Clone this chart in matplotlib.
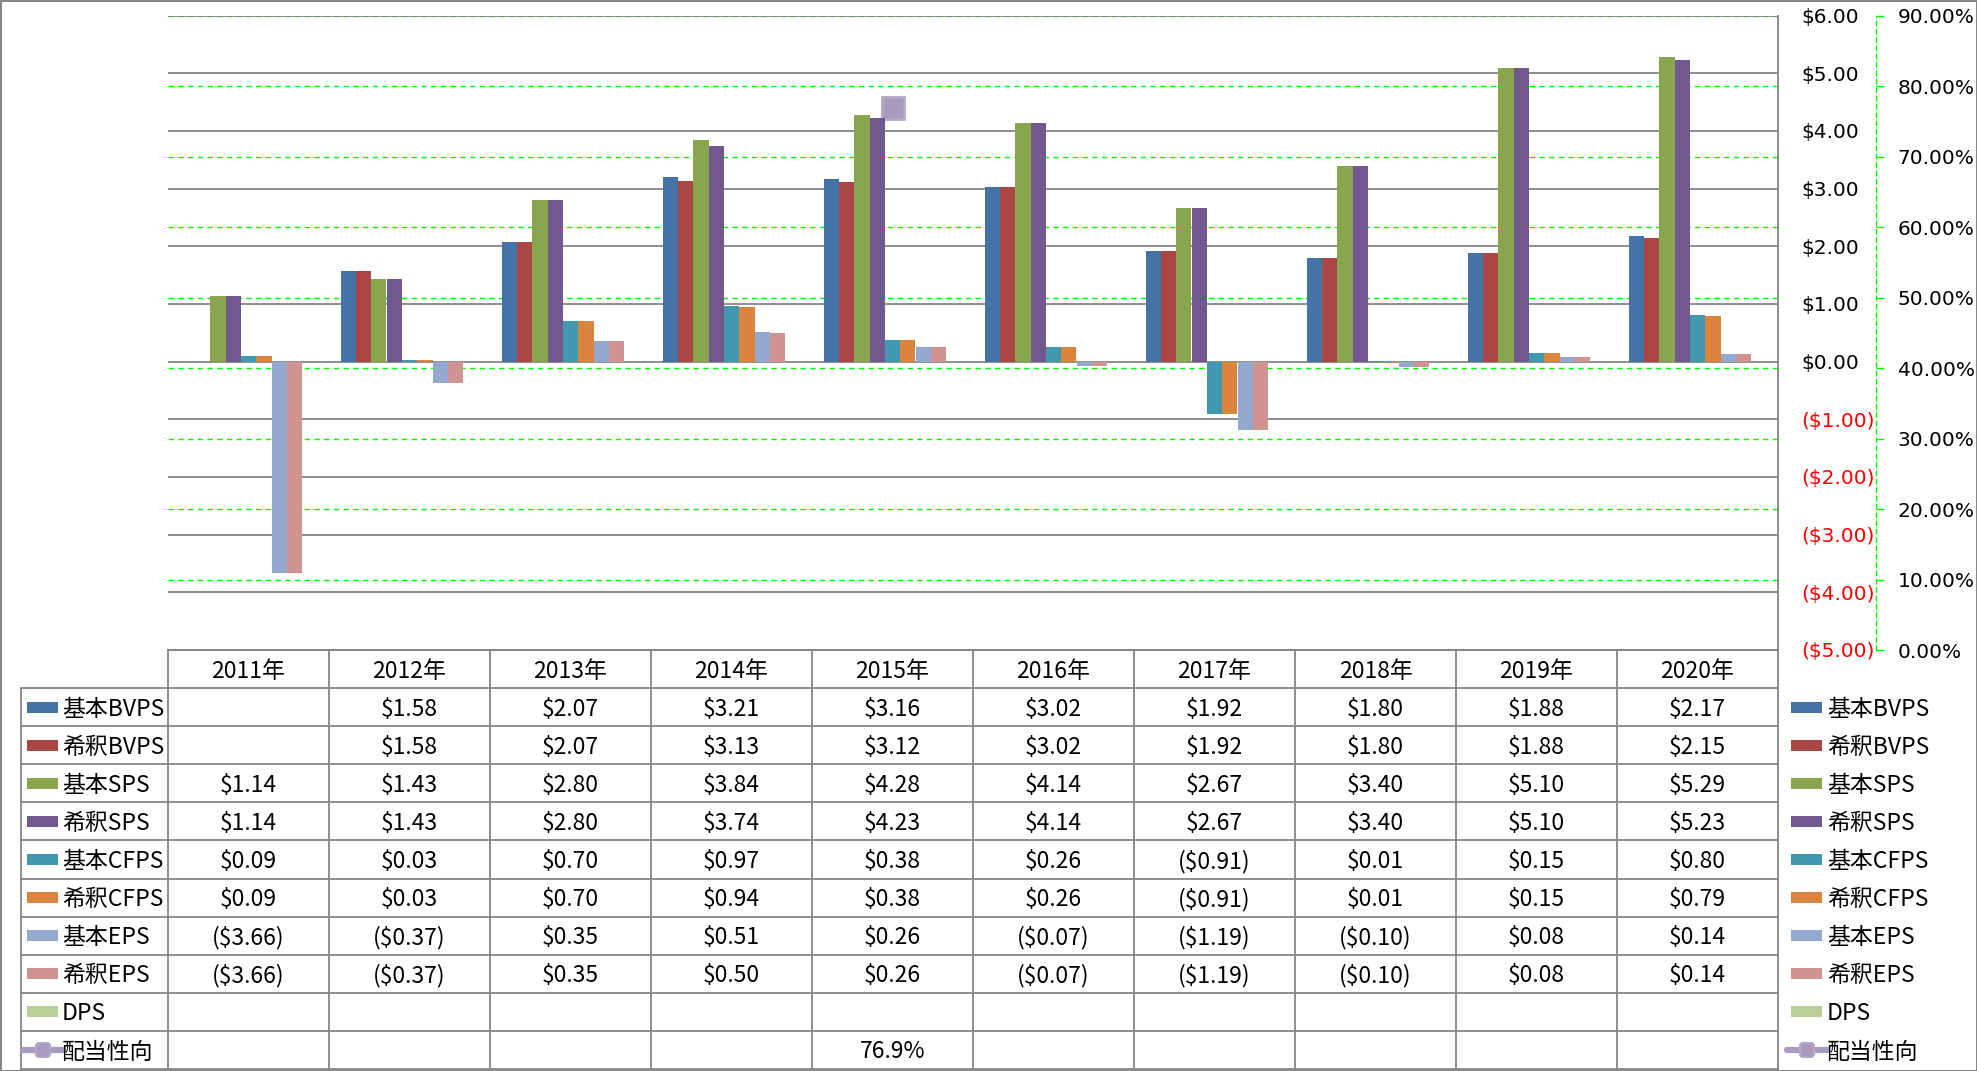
import numpy as np
import matplotlib
matplotlib.use("Agg")
import matplotlib.pyplot as plt
from matplotlib.patches import Rectangle, FancyBboxPatch
from matplotlib.ticker import FuncFormatter, MultipleLocator

plt.rcParams['font.family'] = ['Noto Sans CJK JP', 'DejaVu Sans']

# ---- data ----
years = ['2011年', '2012年', '2013年', '2014年', '2015年',
         '2016年', '2017年', '2018年', '2019年', '2020年']
nan = np.nan
bvps_basic = [nan, 1.58, 2.07, 3.21, 3.16, 3.02, 1.92, 1.80, 1.88, 2.17]
bvps_dil = [nan, 1.58, 2.07, 3.13, 3.12, 3.02, 1.92, 1.80, 1.88, 2.15]
sps_basic = [1.14, 1.43, 2.80, 3.84, 4.28, 4.14, 2.67, 3.40, 5.10, 5.29]
sps_dil = [1.14, 1.43, 2.80, 3.74, 4.23, 4.14, 2.67, 3.40, 5.10, 5.23]
cfps_basic = [0.09, 0.03, 0.70, 0.97, 0.38, 0.26, -0.91, 0.01, 0.15, 0.80]
cfps_dil = [0.09, 0.03, 0.70, 0.94, 0.38, 0.26, -0.91, 0.01, 0.15, 0.79]
eps_basic = [-3.66, -0.37, 0.35, 0.51, 0.26, -0.07, -1.19, -0.10, 0.08, 0.14]
eps_dil = [-3.66, -0.37, 0.35, 0.50, 0.26, -0.07, -1.19, -0.10, 0.08, 0.14]
dps = [nan] * 10
payout = [nan, nan, nan, nan, 76.9, nan, nan, nan, nan, nan]  # %

bar_names = ['基本BVPS', '希釈BVPS', '基本SPS', '希釈SPS', '基本CFPS',
             '希釈CFPS', '基本EPS', '希釈EPS', 'DPS']
bar_data = [bvps_basic, bvps_dil, sps_basic, sps_dil, cfps_basic,
            cfps_dil, eps_basic, eps_dil, dps]
bar_colors = ['#4572A7', '#AA4643', '#89A54E', '#71588F', '#4198AF',
              '#DB843D', '#93A9CF', '#D19392', '#B9CD96']
line_name = '配当性向'
line_color = '#A99BBD'

# ---- layout (pixels) ----
W, H = 1977, 1071
DPI = 100
PL, PR, PT, PB = 168, 1778, 15.6, 650   # plot area
ROW_H = (1069 - 650) / 11
LEG_L = 21
GRAY = '#868686'
GREEN = '#00FF00'

fig = plt.figure(figsize=(W / DPI, H / DPI), dpi=DPI)
fig.patch.set_edgecolor(GRAY)
fig.patch.set_linewidth(2)

# canvas axes for the data table
tab = fig.add_axes([0, 0, 1, 1])
tab.set_xlim(0, W)
tab.set_ylim(H, 0)
tab.axis('off')

ax = fig.add_axes([PL / W, (H - PB) / H, (PR - PL) / W, (PB - PT) / H])
ax2 = ax.twinx()
ax.set_zorder(3)
ax2.set_zorder(2)
ax.patch.set_visible(False)

x = np.arange(len(years))
nb = len(bar_data)
bw = 1 / (nb + 1.5)
for i, (vals, col) in enumerate(zip(bar_data, bar_colors)):
    ax.bar(x + (i - (nb - 1) / 2) * bw, vals, bw, color=col, zorder=3, label=bar_names[i])

ax.set_xlim(-0.5, len(years) - 0.5)
ax.set_ylim(-5, 6)
ax.set_xticks([])
ax.yaxis.set_major_locator(MultipleLocator(1))
ax.yaxis.tick_right()
ax.yaxis.set_major_formatter(FuncFormatter(
    lambda v, p: f"${v:.2f}" if v >= 0 else f"(${-v:.2f})"))
ax.tick_params(axis='y', length=0, pad=16.5, labelsize=14.5)
ax.grid(axis='y', color=GRAY, lw=1.3)
ax.set_axisbelow(True)
for s in ['top', 'left']:
    ax.spines[s].set_visible(False)
ax.spines['bottom'].set_color(GRAY)
ax.spines['right'].set_color(GRAY)
ax.spines['bottom'].set_linewidth(1.3)
ax.spines['right'].set_linewidth(1.3)
fig.canvas.draw()
for lab in ax.get_yticklabels():
    lab.set_fontfamily('DejaVu Sans')
    if lab.get_position()[1] < 0:
        lab.set_color('#FF0000')

# secondary axis: payout ratio
ax2.plot(x, np.array(payout) / 100, marker='s', ms=16, color=line_color,
         mfc=line_color, mec='#B4A8C6', mew=2, lw=3)
ax2.set_ylim(0, 0.9)
ax2.yaxis.set_major_locator(MultipleLocator(0.1))
ax2.yaxis.set_major_formatter(FuncFormatter(lambda v, p: f"{v * 100:.2f}%"))
ax2.grid(axis='y', color=GREEN, lw=1, ls=(0, (4, 3)))
for s in ['top', 'left', 'bottom']:
    ax2.spines[s].set_visible(False)
ax2.spines['right'].set_position(('outward', (1876 - PR) * 0.72))
ax2.spines['right'].set_color(GREEN)
ax2.spines['right'].set_linestyle((0, (3, 3)))
ax2.spines['right'].set_linewidth(1)
ax2.tick_params(axis='y', direction='out', length=5.5, color=GREEN, width=1,
                pad=10, labelsize=14.5)
for lab in ax2.get_yticklabels():
    lab.set_fontfamily('DejaVu Sans')

# ---- data table ----
ncol = len(years)
cw = (PR - PL) / ncol
rows_y = [PB + ROW_H * i for i in range(12)]

tab.plot([PL, PR], [PB, PB], color=GRAY, lw=1.3)
for yy in rows_y[1:]:
    tab.plot([LEG_L, PR], [yy, yy], color=GRAY, lw=1.3)
for j in range(ncol + 1):
    tab.plot([PL + cw * j] * 2, [PB, rows_y[-1]], color=GRAY, lw=1.3)
tab.plot([LEG_L] * 2, [rows_y[1], rows_y[-1]], color=GRAY, lw=1.3)
tab.plot([PR, PR], [rows_y[-1], H], color=GRAY, lw=1.3)

FS = 16.5
DY = 2  # small downward nudge for vertical centring of CJK font
for j, yr in enumerate(years):
    tab.text(PL + cw * (j + 0.5), PB + ROW_H / 2 + DY, yr, ha='center', va='center', fontsize=FS)


def fmt(v):
    if np.isnan(v):
        return ''
    return f"${v:.2f}" if v >= 0 else f"(${-v:.2f})"


def legend_key(x0, yc, k):
    if k < nb:
        tab.add_patch(Rectangle((x0, yc - 5.5), 31, 11, color=bar_colors[k], lw=0))
    else:
        tab.plot([x0 - 4, x0 + 36], [yc, yc], color=line_color, lw=4.5, solid_capstyle='round')
        tab.add_patch(FancyBboxPatch((x0 + 9, yc - 7), 14, 14,
                                     boxstyle='round,pad=0,rounding_size=3',
                                     fc=line_color, ec='#B4A8C6', lw=1.5, zorder=3))


all_names = bar_names + [line_name]
for k, name in enumerate(all_names):
    yc = rows_y[k + 1] + ROW_H / 2
    legend_key(27, yc, k)
    tab.text(62, yc + DY, name, ha='left', va='center', fontsize=FS)
    legend_key(1791, yc, k)
    tab.text(1827, yc + DY, name, ha='left', va='center', fontsize=FS)
    if k < nb:
        vals = [fmt(v) for v in bar_data[k]]
    else:
        vals = ['' if np.isnan(v) else f"{v:.1f}%" for v in payout]
    for j, s in enumerate(vals):
        tab.text(PL + cw * (j + 0.5), yc + DY, s, ha='center', va='center', fontsize=FS)

fig.savefig('out.png', dpi=DPI)
